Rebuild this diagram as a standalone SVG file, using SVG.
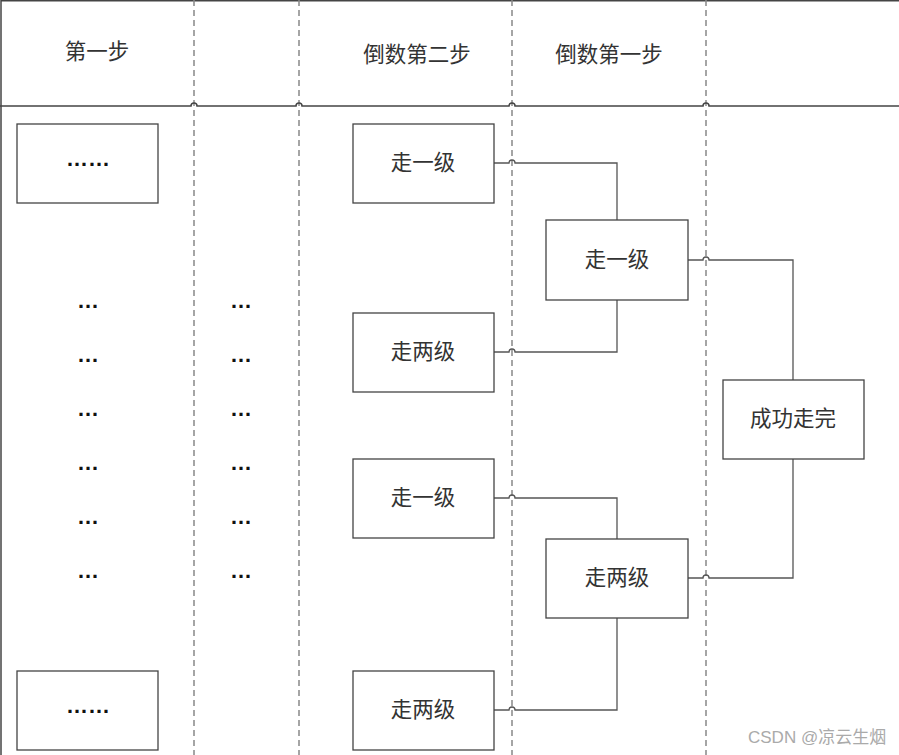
<svg xmlns="http://www.w3.org/2000/svg" width="899" height="755" viewBox="0 0 899 755">
<style>
.frame{stroke:#444;stroke-width:1.5;fill:none}
.dash{stroke:#888;stroke-width:1.5;stroke-dasharray:6 4;fill:none}
.box{fill:#fff;stroke:#444;stroke-width:1.3}
.conn{stroke:#555;stroke-width:1.3;fill:none}
.t{font-family:"Noto Sans CJK SC","Liberation Sans",sans-serif;font-size:21.5px;fill:#333;text-anchor:middle}
.d{font-family:"Liberation Sans",sans-serif;font-size:22px;font-weight:bold;fill:#111;text-anchor:middle}
.wm{font-family:"Liberation Sans","Noto Sans CJK SC",sans-serif;font-size:17px;fill:#aaa}
</style>
<rect width="899" height="755" fill="#fff"/>
<g id="lanes">
<line class="frame" x1="1" y1="0.75" x2="899" y2="0.75"/>
<line class="frame" x1="1" y1="0" x2="1" y2="755"/>
<line class="dash" x1="194" y1="0" x2="194" y2="755"/>
<line class="dash" x1="299" y1="0" x2="299" y2="755"/>
<line class="dash" x1="512" y1="0" x2="512" y2="755"/>
<line class="dash" x1="706" y1="0" x2="706" y2="755"/>
<path class="frame" d="M0 106 H191 A3 3 0 0 1 197 106 H296 A3 3 0 0 1 302 106 H509 A3 3 0 0 1 515 106 H703 A3 3 0 0 1 709 106 H899"/>
<text class="t" x="97" y="59">第一步</text>
<text class="t" x="417" y="62">倒数第二步</text>
<text class="t" x="609" y="62">倒数第一步</text>
</g>
<g id="ellipses">
<text class="d" x="88" y="308">…</text><text class="d" x="241" y="308">…</text>
<text class="d" x="88" y="362">…</text><text class="d" x="241" y="362">…</text>
<text class="d" x="88" y="416">…</text><text class="d" x="241" y="416">…</text>
<text class="d" x="88" y="470">…</text><text class="d" x="241" y="470">…</text>
<text class="d" x="88" y="524">…</text><text class="d" x="241" y="524">…</text>
<text class="d" x="88" y="578">…</text><text class="d" x="241" y="578">…</text>
</g>
<g id="connectors">
<path class="conn" d="M494 163 H509 A3 3 0 0 1 515 163 H617 V220"/>
<path class="conn" d="M494 352 H509 A3 3 0 0 1 515 352 H617 V300"/>
<path class="conn" d="M494 498 H509 A3 3 0 0 1 515 498 H617 V539"/>
<path class="conn" d="M494 710 H509 A3 3 0 0 1 515 710 H617 V618"/>
<path class="conn" d="M688 260 H703 A3 3 0 0 1 709 260 H793 V380"/>
<path class="conn" d="M688 578 H703 A3 3 0 0 1 709 578 H793 V459"/>
</g>
<g id="n-top-left"><rect class="box" x="17" y="124" width="141" height="79"/><text class="d" x="88" y="166">……</text></g>
<g id="n-bottom-left"><rect class="box" x="17" y="671" width="141" height="79"/><text class="d" x="88" y="713">……</text></g>
<g id="n-a1"><rect class="box" x="353" y="124" width="141" height="79"/><text class="t" x="423" y="170">走一级</text></g>
<g id="n-a2"><rect class="box" x="353" y="313" width="141" height="79"/><text class="t" x="423" y="359">走两级</text></g>
<g id="n-a3"><rect class="box" x="353" y="459" width="141" height="79"/><text class="t" x="423" y="505">走一级</text></g>
<g id="n-a4"><rect class="box" x="353" y="671" width="141" height="79"/><text class="t" x="423" y="717">走两级</text></g>
<g id="n-b1"><rect class="box" x="546" y="220" width="142" height="80"/><text class="t" x="617" y="267">走一级</text></g>
<g id="n-b2"><rect class="box" x="546" y="539" width="142" height="79"/><text class="t" x="617" y="585">走两级</text></g>
<g id="n-done"><rect class="box" x="723" y="380" width="141" height="79"/><text class="t" x="793" y="426">成功走完</text></g>
<text class="wm" x="748" y="743">CSDN @凉云生烟</text>
</svg>
